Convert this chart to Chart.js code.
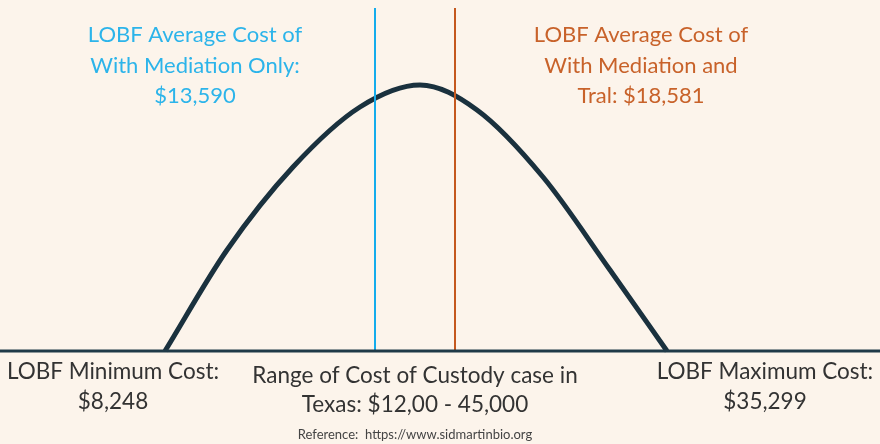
<!DOCTYPE html>
<html lang="en">
  <head>
    <meta charset="UTF-8" />
    <title>Custody cost curve</title>
    <script src="https://cdn.jsdelivr.net/npm/chart.js@4"></script>
    <style>
      body { margin: 0; background: #fcf4eb; }
      canvas { display: block; }
    </style>
  </head>
  <body>
    <canvas id="grafico" width="880" height="444"></canvas>
    <script>
      // curve (x position, height above baseline)
      const curvaX = [165, 227, 293, 360, 420, 477, 543, 610, 667];
      const curvaY = [0, 101, 184, 244, 266, 241, 174, 81, 0];

      const mediacaoX = 375;
      const julgamentoX = 455;
      const alturaLinhas = 343;

      const textosAzul = ["LOBF Average Cost of", "With Mediation Only:", "$13,590"];
      const textosLaranja = ["LOBF Average Cost of", "With Mediation and", "Tral: $18,581"];
      const textoMinimo = ["LOBF Minimum Cost:", "$8,248"];
      const textoFaixa = ["Range of Cost of Custody case in", "Texas: $12,00 - 45,000"];
      const textoMaximo = ["LOBF Maximum Cost:", "$35,299"];
      const textoReferencia = "Reference:  https://www.sidmartinbio.org";

      const pontos = curvaX.map((x, i) => ({ x: x, y: curvaY[i] }));

      const textos = {
        id: "textos",
        afterDatasetsDraw(chart) {
          const ctx = chart.ctx;
          const sx = chart.scales.x;
          const sy = chart.scales.y;
          function bloco(linhas, x, y, passo, cor, fonte) {
            ctx.save();
            ctx.fillStyle = cor;
            ctx.font = fonte;
            ctx.textAlign = "center";
            ctx.textBaseline = "middle";
            for (let i = 0; i < linhas.length; i++) {
              ctx.fillText(linhas[i], sx.getPixelForValue(x), sy.getPixelForValue(y - i * passo));
            }
            ctx.restore();
          }
          bloco(textosAzul, 195, 316, 30.5, "#2cb4ea", "22px Lato");
          bloco(textosLaranja, 641, 316, 30.5, "#c8622a", "22px Lato");
          bloco(textoMinimo, 113, -21, 30, "#333333", "22.5px Lato");
          bloco(textoFaixa, 415, -25, 29, "#333333", "22.5px Lato");
          bloco(textoMaximo, 765, -21, 30, "#333333", "22.5px Lato");
          bloco([textoReferencia], 415, -84, 0, "#444444", "13px Lato");
        },
      };

      new Chart(document.getElementById("grafico"), {
        type: "scatter",
        data: {
          datasets: [
            {
              label: "Base",
              data: [{ x: 0, y: 0 }, { x: 880, y: 0 }],
              showLine: true,
              borderColor: "#1f3a48",
              borderWidth: 3,
              pointRadius: 0,
            },
            {
              label: "Mediation",
              data: [{ x: mediacaoX, y: 0 }, { x: mediacaoX, y: alturaLinhas }],
              showLine: true,
              borderColor: "#14acec",
              borderWidth: 2,
              pointRadius: 0,
            },
            {
              label: "Trial",
              data: [{ x: julgamentoX, y: 0 }, { x: julgamentoX, y: alturaLinhas }],
              showLine: true,
              borderColor: "#c4581e",
              borderWidth: 2,
              pointRadius: 0,
            },
            {
              label: "Curva",
              data: pontos,
              showLine: true,
              borderColor: "#1a313e",
              borderWidth: 5,
              pointRadius: 0,
              cubicInterpolationMode: "monotone",
            },
          ],
        },
        options: {
          responsive: false,
          animation: false,
          layout: { padding: 0 },
          plugins: { legend: { display: false }, tooltip: { enabled: false } },
          scales: {
            x: { type: "linear", min: 0, max: 880, display: false },
            y: { type: "linear", min: -93, max: 351, display: false },
          },
        },
        plugins: [textos],
      });
    </script>
  </body>
</html>
